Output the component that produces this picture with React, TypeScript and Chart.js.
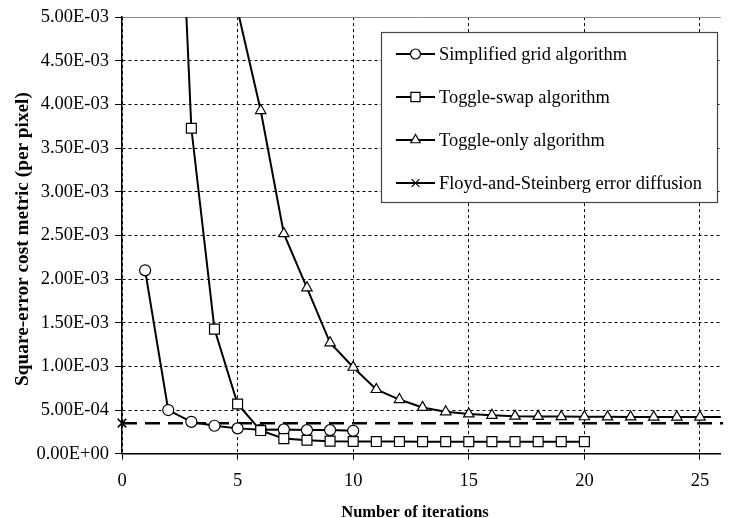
import React, { useEffect, useRef } from 'react';
import { Chart, registerables } from 'chart.js';
import { drawPoint } from 'chart.js/helpers';

Chart.register(...registerables);

const FONT = '"Liberation Serif", "Times New Roman", serif';

// Simplified grid algorithm
const gridIters = [1, 2, 3, 4, 5, 6, 7, 8, 9, 10];
const gridCost = [2.10e-3, 0.50e-3, 0.365e-3, 0.32e-3, 0.29e-3, 0.275e-3, 0.278e-3, 0.27e-3, 0.27e-3, 0.262e-3];

// Toggle-swap algorithm
const swapIters = [2, 3, 4, 5, 6, 7, 8, 9, 10, 11, 12, 13, 14, 15, 16, 17, 18, 19, 20];
const swapCost = [
  9.7e-3, 3.727e-3, 1.427e-3, 0.569e-3, 0.265e-3, 0.173e-3, 0.154e-3, 0.144e-3, 0.14e-3, 0.139e-3,
  0.139e-3, 0.138e-3, 0.138e-3, 0.138e-3, 0.138e-3, 0.138e-3, 0.138e-3, 0.138e-3, 0.138e-3,
];

// Toggle-only algorithm
const toggleIters = [5, 6, 7, 8, 9, 10, 11, 12, 13, 14, 15, 16, 17, 18, 19, 20, 21, 22, 23, 24, 25, 26];
const toggleCost = [
  5.08e-3, 3.93e-3, 2.52e-3, 1.90e-3, 1.27e-3, 0.99e-3, 0.735e-3, 0.62e-3, 0.53e-3, 0.48e-3, 0.455e-3,
  0.44e-3, 0.43e-3, 0.427e-3, 0.425e-3, 0.423e-3, 0.422e-3, 0.421e-3, 0.42e-3, 0.42e-3, 0.42e-3, 0.42e-3,
];

// Floyd-and-Steinberg error diffusion (reference level)
const fsIters = [0, 26];
const fsCost = [0.35e-3, 0.35e-3];

const seriesNames = [
  'Simplified grid algorithm',
  'Toggle-swap algorithm',
  'Toggle-only algorithm',
  'Floyd-and-Steinberg error diffusion',
];
const seriesStyles = ['circle', 'rect', 'triangle', 'crossRot'];
const seriesRadius = [5.5, 7, 6, 6];

const xTitle = 'Number of iterations';
const yTitle = 'Square-error cost metric (per pixel)';

const xMin = 0;
const xMax = 25.9;
const xStep = 5;
const yMin = 0;
const yMax = 5e-3;
const yStep = 5e-4;

function sci(v: number): string {
  if (Math.abs(v) < 1e-12) return '0.00E+00';
  let e = Math.floor(Math.log10(Math.abs(v)) + 1e-9);
  let m = v / Math.pow(10, e);
  if (Math.abs(m) >= 9.995) {
    e += 1;
    m = v / Math.pow(10, e);
  }
  return m.toFixed(2) + 'E' + (e < 0 ? '-' : '+') + String(Math.abs(e)).padStart(2, '0');
}

const pts = (xs: number[], ys: number[]) => xs.map((x, i) => ({ x, y: ys[i] }));

const overlayPlugin = {
  id: 'overlay',
  afterDraw(chart: any) {
    const ctx = chart.ctx as CanvasRenderingContext2D;
    ctx.save();
    // Legend box
    const bx = 381.5, by = 32.5, bw = 336, bh = 170;
    ctx.fillStyle = '#fff';
    ctx.fillRect(bx, by, bw, bh);
    ctx.strokeStyle = '#444';
    ctx.lineWidth = 1.2;
    ctx.strokeRect(bx, by, bw, bh);
    seriesNames.forEach((name, i) => {
      const y = 54 + i * 43;
      ctx.strokeStyle = '#000';
      ctx.lineWidth = 2;
      ctx.setLineDash([]);
      ctx.beginPath();
      ctx.moveTo(396, y);
      ctx.lineTo(435, y);
      ctx.stroke();
      ctx.fillStyle = '#fff';
      ctx.strokeStyle = '#000';
      ctx.lineWidth = 1.2;
      drawPoint(ctx, { pointStyle: seriesStyles[i], radius: seriesRadius[i] - 0.5, rotation: 0, borderWidth: 1.2 } as any, 415.5, y);
      ctx.fillStyle = '#000';
      ctx.font = `18.4px ${FONT}`;
      ctx.textAlign = 'left';
      ctx.textBaseline = 'middle';
      ctx.fillText(name, 439, y + 1);
    });
    // Axis titles
    ctx.fillStyle = '#000';
    ctx.font = `bold 16.5px ${FONT}`;
    ctx.textAlign = 'center';
    ctx.textBaseline = 'alphabetic';
    ctx.fillText(xTitle, 415, 516.5);
    ctx.translate(27.5, 239);
    ctx.rotate(-Math.PI / 2);
    ctx.font = `bold 19.3px ${FONT}`;
    ctx.fillText(yTitle, 0, 0);
    ctx.restore();
  },
};

const isTop = (c: any) => c.tick && Math.abs(c.tick.value - yMax) < 1e-9;

export default function App() {
  const ref = useRef<HTMLCanvasElement | null>(null);
  useEffect(() => {
    if (!ref.current) return;
    const common = {
      borderColor: '#000',
      borderWidth: 2,
      pointBackgroundColor: '#fff',
      pointBorderColor: '#000',
      pointBorderWidth: 1.2,
      tension: 0,
      fill: false,
    };
    const chart = new Chart(ref.current, {
      type: 'line',
      data: {
        datasets: [
          { ...common, label: seriesNames[0], data: pts(gridIters, gridCost), pointStyle: seriesStyles[0], pointRadius: seriesRadius[0], order: 2 },
          { ...common, label: seriesNames[1], data: pts(swapIters, swapCost), pointStyle: seriesStyles[1], pointRadius: seriesRadius[1], order: 1 },
          {
            ...common,
            label: seriesNames[2],
            data: pts(toggleIters, toggleCost),
            pointStyle: seriesStyles[2],
            pointRadius: (c: any) => (c.raw && c.raw.x > xMax ? 0 : seriesRadius[2]),
            order: 0,
          },
          {
            ...common,
            label: seriesNames[3],
            data: pts(fsIters, fsCost),
            borderWidth: 2.5,
            borderDash: [15, 8],
            pointStyle: seriesStyles[3],
            pointRadius: [seriesRadius[3], 0],
            pointBorderWidth: 1.5,
            clip: false,
            order: 3,
          } as any,
        ],
      },
      options: {
        animation: false,
        responsive: false,
        devicePixelRatio: 1,
        layout: { padding: { top: 17, left: 0, right: 0, bottom: 0 } },
        plugins: { legend: { display: false }, tooltip: { enabled: false } },
        scales: {
          x: {
            type: 'linear',
            min: xMin,
            max: xMax,
            ticks: { stepSize: xStep, includeBounds: false, color: '#000', font: { family: FONT, size: 18.5 }, padding: 10, maxRotation: 0 },
            grid: { color: '#000', lineWidth: 1, tickLength: 6, tickColor: '#000', tickBorderDash: [] },
            border: { display: true, color: '#000', width: 1.5, dash: [3, 3] },
            afterFit: (s: any) => {
              s.height = 64.3;
            },
          },
          y: {
            type: 'linear',
            min: yMin,
            max: yMax,
            ticks: { stepSize: yStep, color: '#000', font: { family: FONT, size: 18.5 }, padding: 6, callback: (v: any) => sci(Number(v)) },
            grid: {
              color: (c: any) => (isTop(c) ? '#8a8a8a' : '#000'),
              lineWidth: 1,
              tickLength: 7,
              tickColor: '#000',
              tickBorderDash: [],
            },
            border: { display: true, color: '#000', width: 1.5, dash: (c: any) => (isTop(c) ? [] : [3, 3]) },
            afterFit: (s: any) => {
              s.width = 122;
            },
          },
        },
      } as any,
      plugins: [overlayPlugin],
    });
    return () => chart.destroy();
  }, []);
  return (
    <div style={{ position: 'absolute', left: 0, top: 0, width: 729, height: 518, background: '#fff' }}>
      <canvas ref={ref} width={729} height={518} style={{ width: 729, height: 518, display: 'block' }} />
    </div>
  );
}
